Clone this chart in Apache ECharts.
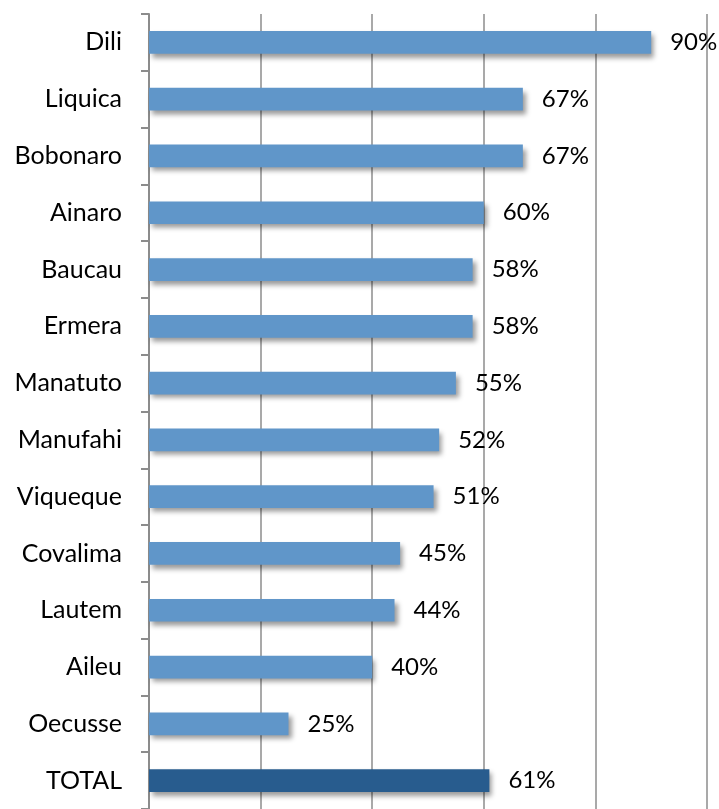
<!DOCTYPE html>
<html>
<head>
<meta charset="utf-8">
<style>
  html, body { margin: 0; padding: 0; background: #ffffff; }
  #chart { width: 719px; height: 809px; }
</style>
<script src="https://cdn.jsdelivr.net/npm/echarts@6/dist/echarts.min.js"></script>
</head>
<body>
<div id="chart"></div>
<script>
// Share by district, with the national total on the last row
const districts = ['Dili', 'Liquica', 'Bobonaro', 'Ainaro', 'Baucau', 'Ermera', 'Manatuto',
  'Manufahi', 'Viqueque', 'Covalima', 'Lautem', 'Aileu', 'Oecusse', 'TOTAL'];
const shares = [90, 67, 67, 60, 58, 58, 55, 52, 51, 45, 44, 40, 25, 61];
const totalName = 'TOTAL';

const districtColor = '#6096C9';
const totalColor = '#285C8E';
const gridGray = '#8C8C8C';
const fontFamily = 'Lato, "Open Sans", sans-serif';

const chart = echarts.init(document.getElementById('chart'));

chart.setOption({
  animation: false,
  grid: { left: 149, right: 12, top: 14, bottom: -2, containLabel: false },
  xAxis: {
    type: 'value',
    min: 0,
    max: 100,
    interval: 20,
    axisLabel: { show: false },
    axisLine: { show: false },
    axisTick: { show: false },
    splitLine: { show: true, lineStyle: { color: gridGray, width: 1.5 } }
  },
  yAxis: {
    type: 'category',
    inverse: true,
    data: districts,
    axisLine: { show: true, lineStyle: { color: gridGray, width: 2 } },
    axisTick: { show: true, inside: false, length: 8, lineStyle: { color: gridGray, width: 2 } },
    axisLabel: { color: '#000', fontSize: 25, fontFamily: fontFamily, margin: 27 }
  },
  series: [{
    type: 'bar',
    barWidth: '40%',
    data: shares.map((v, i) => ({
      value: v,
      itemStyle: { color: districts[i] === totalName ? totalColor : districtColor }
    })),
    itemStyle: {
      shadowColor: 'rgba(0,0,0,0.4)',
      shadowBlur: 5,
      shadowOffsetX: 3,
      shadowOffsetY: 4
    },
    label: {
      show: true,
      position: 'right',
      distance: 19,
      color: '#000',
      fontSize: 24,
      fontFamily: fontFamily,
      formatter: p => p.value + '%'
    }
  }]
});
</script>
</body>
</html>
